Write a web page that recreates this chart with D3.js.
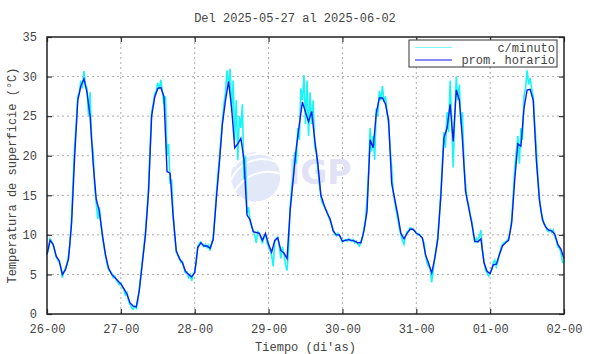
<!DOCTYPE html>
<html>
<head>
<meta charset="utf-8">
<script src="https://cdn.jsdelivr.net/npm/d3@7"></script>
<style>
  body { margin: 0; background: #fff; }
  text { font-family: "Liberation Mono", "DejaVu Sans Mono", monospace; font-size: 12px; fill: #444; }
</style>
</head>
<body>
<div id="app"></div>
<script>
const startTime = Date.UTC(2025, 4, 26, 0, 0);
const endTime = Date.UTC(2025, 5, 2, 0, 0);
const titleText = 'Del 2025-05-27 al 2025-06-02';
const yTicks = [0, 5, 10, 15, 20, 25, 30, 35];
const legendLabels = ['c/minuto', 'prom. horario'];

// promedio horario, one value per hour from 26-00
const hourly = [
  7.5, 9.3, 8.8, 7.3, 6.7, 5.0, 5.6, 7.0, 11.5, 20.0, 27.0, 28.8, 29.7, 28.0, 25.0, 19.0, 14.5, 13.0, 10.0, 7.5, 5.8, 5.0, 4.6, 4.2,
  3.8, 3.2, 2.5, 1.4, 1.0, 0.9, 3.0, 6.5, 10.0, 15.5, 25.0, 27.4, 28.5, 28.6, 27.5, 18.0, 17.8, 12.3, 8.0, 7.0, 6.5, 5.4, 5.0, 4.7,
  5.2, 8.4, 9.0, 8.6, 8.6, 8.3, 9.4, 14.4, 19.0, 24.0, 27.0, 29.4, 26.0, 21.0, 21.5, 22.2, 19.5, 12.5, 11.9, 10.4, 10.3, 10.2, 9.3, 10.2,
  8.8, 7.8, 9.3, 9.6, 8.0, 7.7, 7.0, 13.0, 17.0, 21.0, 24.0, 26.8, 25.5, 24.3, 25.6, 22.0, 19.0, 15.0, 13.8, 12.8, 12.0, 10.5, 10.0, 10.0,
  9.2, 9.3, 9.4, 9.3, 9.2, 9.0, 9.0, 10.5, 13.0, 22.0, 21.0, 25.4, 27.3, 27.3, 26.5, 24.5, 16.5, 14.5, 12.5, 10.2, 9.5, 10.2, 10.7, 10.7,
  10.2, 10.0, 9.6, 7.5, 6.4, 5.2, 7.0, 9.5, 15.0, 22.3, 23.5, 26.5, 21.8, 28.3, 27.0, 22.0, 15.5, 13.5, 11.5, 9.2, 9.1, 9.5, 6.5, 5.4,
  5.1, 6.2, 6.3, 7.5, 8.6, 9.0, 9.3, 11.5, 17.0, 21.5, 21.2, 26.0, 28.3, 28.4, 27.0, 19.5, 14.4, 11.9, 11.0, 10.6, 10.5, 10.1, 8.8, 8.2,
  7.0
];

// c/minuto readings, every 30 minutes from 26-00
const perMinute = [
  7.6, 8.2, 9.5, 9.2, 8.7, 8.0, 7.2, 6.8, 6.5, 5.9, 4.6, 5.3, 5.8, 6.3, 7.4, 9.0, 12.5, 17.0, 21.5, 24.0, 27.5, 28.0, 29.5, 28.5,
  30.7, 29.0, 28.5, 25.0, 28.0, 22.0, 20.5, 16.0, 14.0, 12.0, 13.5, 11.5, 9.8, 8.5, 7.4, 6.3, 5.6, 5.4, 5.2, 4.6, 4.8, 4.3, 4.0, 3.7,
  3.9, 3.4, 3.0, 2.4, 2.7, 1.6, 1.2, 0.8, 0.6, 1.0, 0.7, 1.5, 3.2, 5.0, 6.8, 8.5, 10.5, 13.0, 16.0, 21.0, 25.5, 26.5, 27.8, 28.2,
  29.2, 28.4, 29.6, 28.0, 26.5, 27.5, 20.0, 21.5, 16.5, 17.0, 12.5, 10.0, 7.8, 7.5, 7.2, 6.5, 6.6, 5.8, 5.2, 5.3, 4.6, 5.0, 4.2, 5.0,
  5.4, 6.5, 8.6, 8.9, 9.1, 8.7, 8.5, 8.8, 8.4, 8.7, 8.0, 9.0, 9.6, 12.0, 15.0, 17.5, 19.5, 22.0, 24.5, 26.5, 28.0, 30.8, 29.0, 31.0,
  25.5, 29.5, 22.0, 27.0, 19.5, 25.0, 23.5, 26.5, 17.0, 20.0, 12.8, 13.5, 11.7, 11.0, 10.6, 10.0, 9.0, 10.4, 10.2, 9.6, 8.9, 9.8, 10.0, 9.0,
  8.5, 8.0, 7.4, 6.0, 9.0, 9.6, 9.7, 8.5, 7.0, 8.5, 7.5, 6.2, 5.5, 8.0, 13.5, 16.0, 17.5, 20.5, 19.0, 23.5, 22.0, 28.5, 27.0, 30.2,
  24.0, 29.5, 22.5, 28.0, 24.0, 27.0, 21.0, 20.5, 18.5, 16.5, 14.8, 14.0, 13.7, 13.2, 12.9, 12.3, 11.8, 11.2, 10.6, 10.1, 9.9, 10.2, 9.9, 9.6,
  9.1, 9.3, 9.4, 9.2, 9.5, 9.3, 9.2, 9.4, 9.0, 9.2, 8.8, 8.6, 9.1, 9.6, 10.8, 12.0, 14.5, 18.0, 23.5, 20.5, 22.5, 19.5, 26.0, 25.0,
  28.2, 27.0, 28.8, 26.8, 27.5, 25.5, 24.0, 21.0, 18.5, 15.5, 14.2, 13.0, 12.0, 10.8, 10.0, 9.3, 8.8, 9.9, 10.4, 10.5, 10.9, 10.8, 10.6, 10.5,
  10.3, 10.0, 10.1, 9.8, 9.5, 9.0, 7.4, 6.4, 6.0, 5.8, 4.0, 5.5, 7.2, 8.3, 9.8, 12.5, 15.5, 19.5, 23.0, 21.0, 25.5, 23.0, 29.5, 24.5,
  18.5, 25.0, 30.0, 27.0, 29.0, 24.0, 25.5, 19.0, 16.5, 14.5, 13.8, 12.5, 11.8, 10.5, 9.0, 9.6, 9.2, 9.8, 10.6, 8.0, 6.6, 5.5, 5.2, 4.8,
  5.3, 5.6, 6.4, 6.8, 6.0, 6.6, 7.6, 8.3, 8.8, 9.0, 9.1, 9.3, 9.6, 10.5, 12.0, 15.0, 18.5, 20.5, 22.5, 19.0, 23.5, 22.0, 27.5, 28.5,
  30.8, 29.0, 29.8, 28.5, 27.5, 24.0, 21.0, 17.5, 14.8, 13.0, 12.2, 11.4, 11.2, 10.6, 10.4, 10.7, 10.3, 10.6, 9.8, 9.3, 8.5, 8.3, 7.8, 6.5,
  6.5
];

const width = 590, height = 354;
const margin = { top: 37, right: 26, bottom: 40, left: 47 };
const plotW = width - margin.left - margin.right;
const plotH = height - margin.top - margin.bottom;
const hourMs = 3600 * 1000;

const xScale = d3.scaleUtc().domain([startTime, endTime]).range([0, plotW]);
const yScale = d3.scaleLinear().domain([0, 35]).range([plotH, 0]);
const dayTicks = d3.utcDay.range(startTime, endTime + 1);
const fmt = d3.utcFormat('%d-%H');

const svg = d3.select('#app').append('svg')
  .attr('width', width)
  .attr('height', height);

svg.append('text')
  .attr('x', width / 2)
  .attr('y', 22)
  .attr('text-anchor', 'middle')
  .text(titleText);

const g = svg.append('g')
  .attr('transform', 'translate(' + margin.left + ',' + margin.top + ')');

// grid
g.append('g').selectAll('line')
  .data(dayTicks.slice(1, -1))
  .enter().append('line')
  .attr('x1', d => xScale(d)).attr('x2', d => xScale(d))
  .attr('y1', 0).attr('y2', plotH)
  .attr('stroke', '#aaa').attr('stroke-dasharray', '2,3');
g.append('g').selectAll('line')
  .data(yTicks.slice(1, -1))
  .enter().append('line')
  .attr('y1', d => yScale(d)).attr('y2', d => yScale(d))
  .attr('x1', 0).attr('x2', plotW)
  .attr('stroke', '#aaa').attr('stroke-dasharray', '2,3');

// watermark
const wm = g.append('g').attr('transform', 'translate(209,140)');
wm.append('circle').attr('r', 25).attr('fill', '#e3e8f8');
wm.append('path').attr('d', 'M-22,-10 A30,30 0 0 1 14,-21').attr('stroke', '#fff').attr('stroke-width', 2).attr('fill', 'none');
wm.append('path').attr('d', 'M-25,3 A34,34 0 0 1 20,-15').attr('stroke', '#fff').attr('stroke-width', 2).attr('fill', 'none');
wm.append('path').attr('d', 'M-21,14 A38,38 0 0 1 25,-3').attr('stroke', '#fff').attr('stroke-width', 2).attr('fill', 'none');
wm.append('path').attr('d', 'M0,-25 A25,25 0 0 1 0,25').attr('stroke', '#fff').attr('stroke-width', 1.5).attr('fill', 'none');
wm.append('text')
  .attr('x', 32).attr('y', 7)
  .style('font-family', '"DejaVu Sans", sans-serif')
  .style('font-weight', 'bold')
  .style('font-size', '33px')
  .style('fill', '#e2e2f6')
  .text('IGP');

// series
const minuteLine = d3.line()
  .x((d, i) => xScale(startTime + i * hourMs / 2))
  .y(d => yScale(d));
const hourLine = d3.line()
  .x((d, i) => xScale(startTime + i * hourMs))
  .y(d => yScale(d));

g.append('path')
  .datum(perMinute)
  .attr('d', minuteLine)
  .attr('fill', 'none')
  .attr('stroke', '#19f5f5')
  .attr('stroke-width', 1.6);

g.append('path')
  .datum(hourly)
  .attr('d', hourLine)
  .attr('fill', 'none')
  .attr('stroke', '#0b1cf0')
  .attr('stroke-width', 1.4);

// axes with inward ticks
const tickLen = 5;
g.append('g')
  .attr('transform', 'translate(0,' + plotH + ')')
  .call(d3.axisBottom(xScale).tickValues(dayTicks).tickFormat(fmt).tickSizeInner(-tickLen).tickSizeOuter(0).tickPadding(10))
  .call(a => a.select('.domain').remove());
g.append('g')
  .call(d3.axisTop(xScale).tickValues(dayTicks).tickFormat('').tickSizeInner(-tickLen).tickSizeOuter(0))
  .call(a => a.select('.domain').remove());
g.append('g')
  .call(d3.axisLeft(yScale).tickValues(yTicks).tickSizeInner(-tickLen).tickSizeOuter(0).tickPadding(10))
  .call(a => a.select('.domain').remove());
g.append('g')
  .attr('transform', 'translate(' + plotW + ',0)')
  .call(d3.axisRight(yScale).tickValues(yTicks).tickFormat('').tickSizeInner(-tickLen).tickSizeOuter(0))
  .call(a => a.select('.domain').remove());

g.selectAll('.tick line').attr('stroke', '#333').attr('stroke-width', 1.2);
g.selectAll('.tick text')
  .style('font-family', '"Liberation Mono", monospace')
  .style('font-size', '12px')
  .attr('fill', '#444');

g.append('rect')
  .attr('width', plotW).attr('height', plotH)
  .attr('fill', 'none').attr('stroke', '#222').attr('stroke-width', 1.5);

// legend
const lg = g.append('g').attr('transform', 'translate(' + (plotW - 155) + ',3)');
lg.append('rect')
  .attr('width', 148).attr('height', 27)
  .attr('fill', '#fff').attr('stroke', '#333').attr('stroke-width', 1);
const legendColors = ['#7ffafa', '#0b1cf0'];
legendLabels.forEach((lab, i) => {
  lg.append('line')
    .attr('x1', 6).attr('x2', 43)
    .attr('y1', 7.5 + i * 12.5).attr('y2', 7.5 + i * 12.5)
    .attr('stroke', legendColors[i]).attr('stroke-width', 1.2);
  lg.append('text')
    .attr('x', 146).attr('y', 11.5 + i * 12.5)
    .attr('text-anchor', 'end')
    .text(lab);
});

// axis titles
svg.append('text')
  .attr('x', margin.left + plotW / 2)
  .attr('y', 351)
  .attr('text-anchor', 'middle')
  .text("Tiempo (di'as)");
svg.append('text')
  .attr('transform', 'translate(16,' + (margin.top + plotH / 2) + ') rotate(-90)')
  .attr('text-anchor', 'middle')
  .text('Temperatura de superficie (°C)');
</script>
</body>
</html>
